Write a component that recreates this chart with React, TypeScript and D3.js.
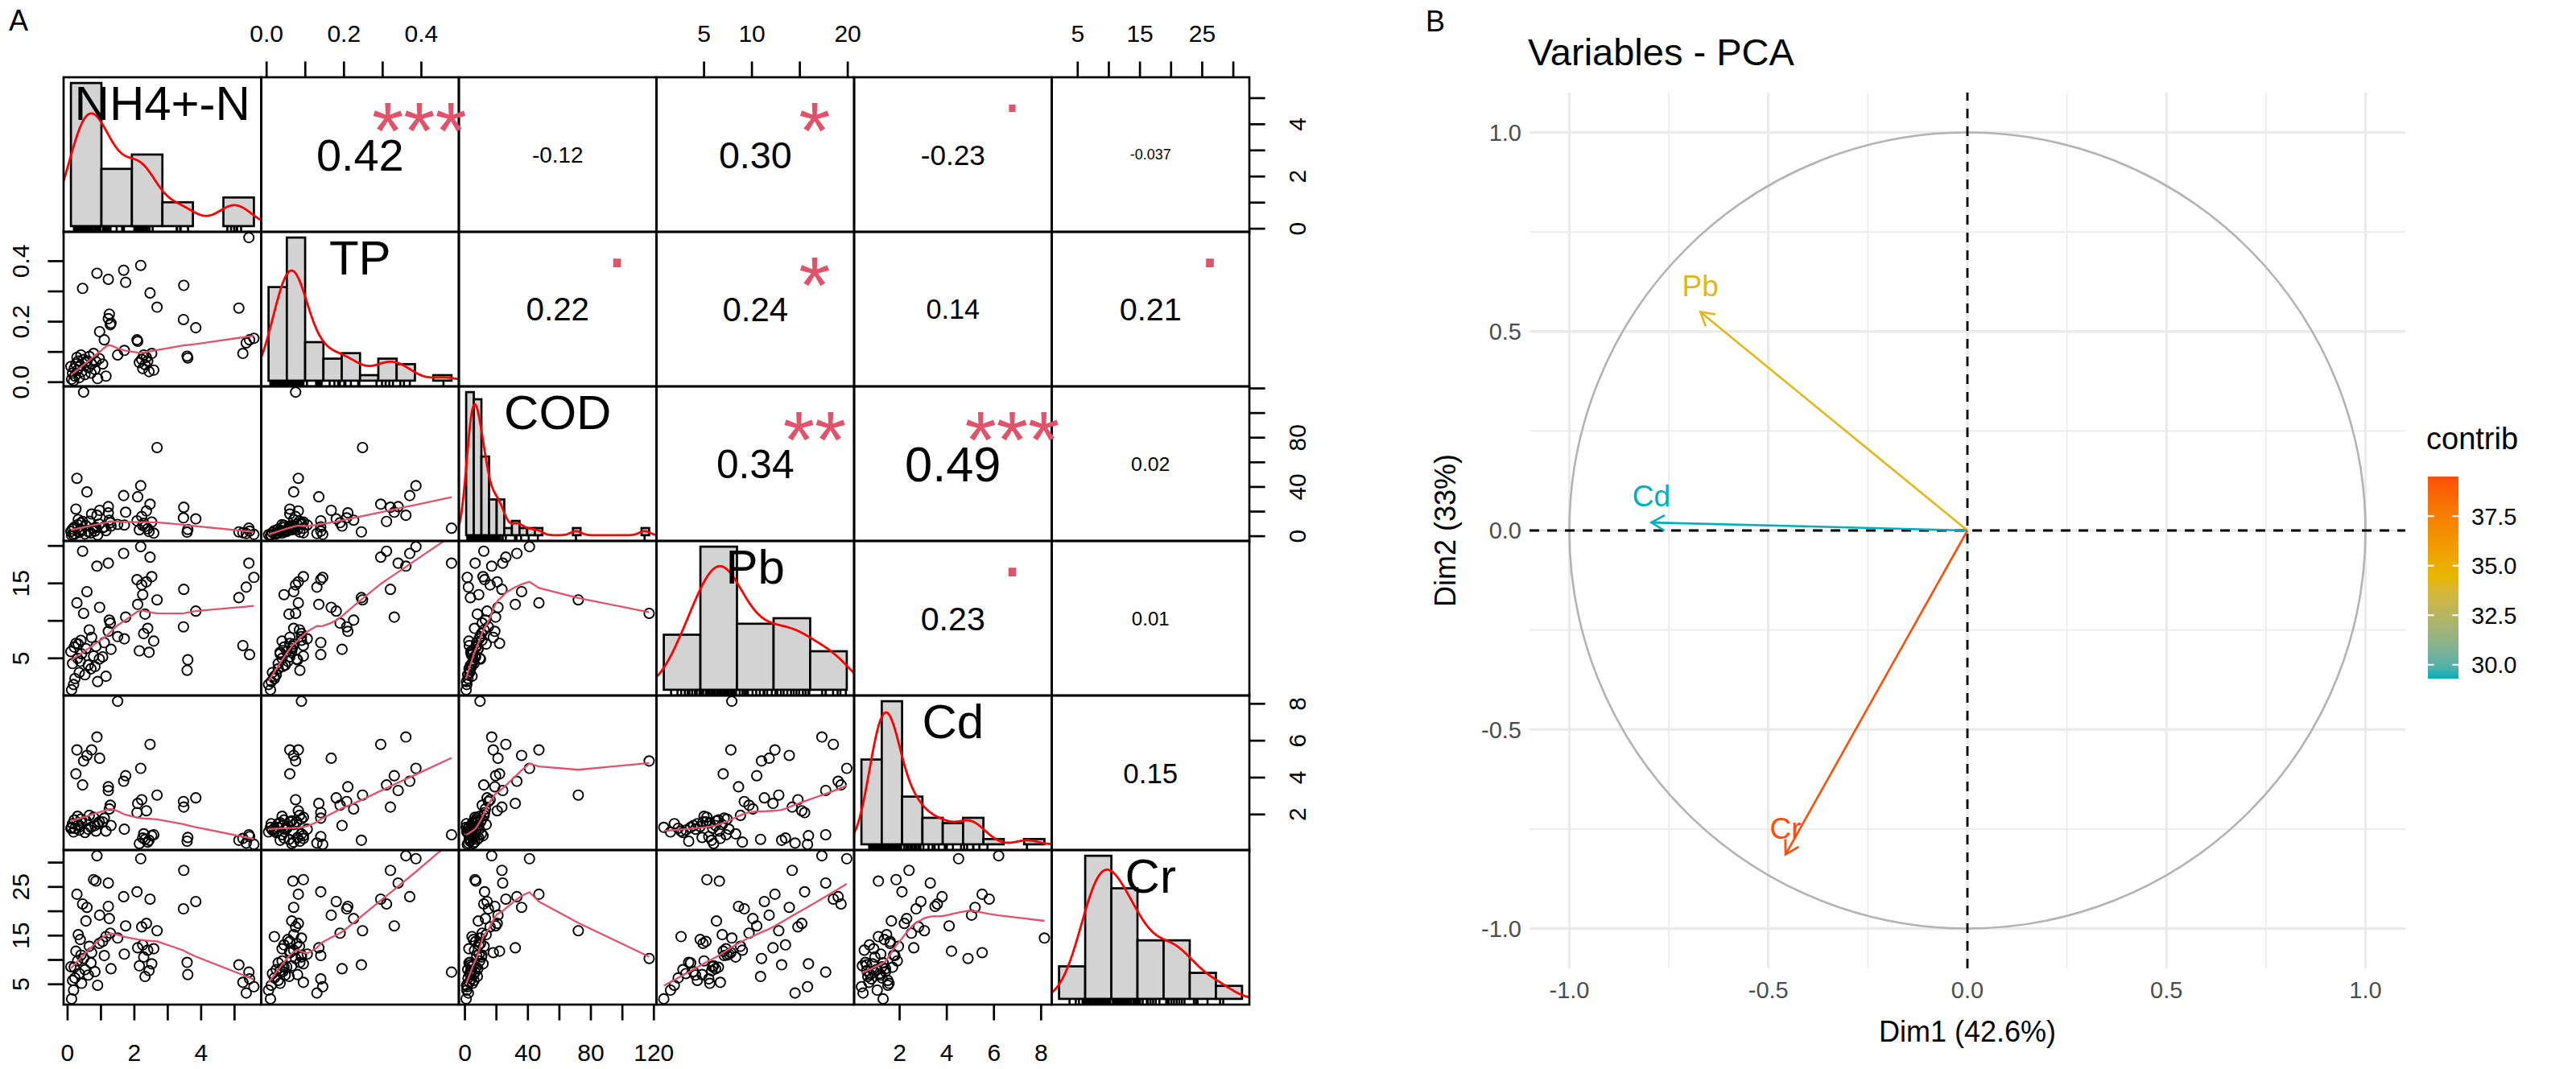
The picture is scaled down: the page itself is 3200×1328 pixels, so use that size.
import React from 'react';
import * as d3 from 'd3';

const W = 3200, H = 1328;
const FONT = "'Liberation Sans', Arial, Helvetica, sans-serif";

// ---------------- Panel A data (68 samples) ----------------
const varNames = ['NH4+-N', 'TP', 'COD', 'Pb', 'Cd', 'Cr'];
const nh4 = [0.45,0.88,1.22,1.68,1.74,2.19,2.47,2.68,3.48,3.47,3.84,5.13,5.43,1.22,1.25,0.96,1.28,1.30,1.10,2.08,2.10,5.35,5.45,5.58,1.70,3.58,3.60,5.25,1.05,1.50,1.15,2.15,2.22,2.28,2.32,2.36,2.40,2.52,2.25,2.44,2.58,0.12,0.15,0.18,0.20,0.22,0.25,0.28,0.30,0.32,0.35,0.38,0.40,0.42,0.48,0.52,0.55,0.58,0.62,0.65,0.70,0.72,0.78,0.82,0.85,0.90,0.95,0.10];
const tp = [0.31,0.36,0.34,0.37,0.33,0.386,0.295,0.248,0.32,0.207,0.18,0.245,0.478,0.21,0.225,0.167,0.19,0.195,0.14,0.14,0.135,0.13,0.14,0.145,0.105,0.086,0.08,0.095,0.06,0.09,0.02,0.065,0.075,0.09,0.058,0.082,0.07,0.095,0.045,0.035,0.04,0.01,0.03,0.005,0.045,0.02,0.06,0.082,0.04,0.07,0.015,0.055,0.09,0.035,0.075,0.025,0.065,0.07,0.048,0.085,0.03,0.06,0.095,0.042,0.068,0.012,0.078,0.052];
const cod = [12,17,24,33,19.5,41,26,72,23.5,14.9,14.1,3.5,6.5,19,13,21,11,8.2,7.5,12.5,32,2.2,4.1,1.5,9.1,3.3,5.5,2.8,6.8,9.6,4.5,5.2,16,10.5,7.9,20.5,6.1,11.5,8.8,3.8,2.5,0.8,5.8,1.2,7.2,2.0,22,47,9.4,13.5,3.0,5.4,10.8,4.8,117,1.8,8.5,36,3.6,12.2,2.6,18,6.4,4.2,7.0,1.0,9.9,3.9];
const pb = [19.3,17.3,17.7,19.0,10.5,19.9,18.5,12.8,14.2,9.2,11.3,13.1,17.7,8.6,10.1,11.8,9.7,6.2,7.1,15.5,12.2,14.5,5.5,15.8,7.6,3.4,4.8,6.7,5.2,7.9,2.6,6.0,14.8,8.3,10.9,15.2,9.0,15.9,13.5,5.8,7.3,0.8,4.3,1.5,6.5,2.3,7.0,12.4,5.0,6.9,3.1,4.6,7.4,5.6,11.0,2.8,6.3,13.9,4.1,8.8,3.6,7.8,5.3,3.9,6.6,1.9,4.9,5.9];
const cd = [3.6,6.2,3.3,3.8,4.1,4.5,5.8,3.05,2.4,2.7,2.9,0.6,0.9,3.5,2.3,5.05,2.5,1.4,1.8,2.1,2.6,0.45,0.8,0.38,1.2,0.55,0.75,0.7,1.6,8.14,1.1,0.42,2.8,0.95,0.65,2.2,0.5,0.85,0.72,0.6,0.9,1.3,1.5,1.05,1.7,1.25,4.2,5.5,1.9,1.45,1.15,1.35,1.75,1.55,4.9,1.02,1.65,5.2,1.2,1.95,1.3,5.5,1.85,1.4,1.1,1.5,1.6,1.25];
const cr = [21.5,31.4,25.8,23.0,17.0,30.8,22.5,16.0,28.4,20.5,22.0,9.0,7.5,21.0,18.5,19.2,15.5,8.2,10.9,24.0,12.5,3.2,6.1,4.5,11.2,9.5,7.0,5.4,13.8,14.5,14.8,8.8,16.8,10.6,6.6,17.5,12.0,9.2,13.1,7.8,12.3,2.0,5.8,3.8,8.5,6.3,11.8,23.5,9.8,15.2,7.2,14.2,11.0,5.2,10.3,8.0,18.0,20.8,6.9,12.8,9.4,11.5,26.5,7.6,26.2,4.8,13.4,8.6];

// histogram breaks (breaks = "FD")
const histBreaks = [
  [0, 1, 2, 3, 4, 5, 6],
  [0, 0.05, 0.1, 0.15, 0.2, 0.25, 0.3, 0.35, 0.4, 0.45, 0.5],
  [0, 5, 10, 15, 20, 25, 30, 35, 40, 45, 50, 55, 60, 65, 70, 75, 80, 85, 90, 95, 100, 105, 110, 115, 120],
  [0, 4, 8, 12, 16, 20],
  [0, 1, 2, 3, 4, 5, 6, 7, 8, 9],
  [0, 5, 10, 15, 20, 25, 30, 35],
];

// axis ticks and the labels R kept
const axisTicks = [
  [0, 1, 2, 3, 4, 5],
  [0, 0.1, 0.2, 0.3, 0.4],
  [0, 20, 40, 60, 80, 100, 120],
  [5, 10, 15, 20],
  [2, 4, 6, 8],
  [5, 10, 15, 20, 25, 30],
];
const labelsHoriz = [
  ['0', '', '2', '', '4', ''],
  ['0.0', '', '0.2', '', '0.4'],
  ['0', '', '40', '', '80', '', '120'],
  ['5', '10', '', '20'],
  ['2', '4', '6', '8'],
  ['5', '', '15', '', '25', ''],
];
const labelsVert = [
  ['0', '', '2', '', '4', ''],
  ['0.0', '', '0.2', '', '0.4'],
  ['0', '', '40', '', '80', '', ''],
  ['5', '', '15', ''],
  ['2', '4', '6', '8'],
  ['5', '', '15', '', '25', ''],
];

// correlations (upper panels)
const corrPairs = [[0,1],[0,2],[0,3],[0,4],[0,5],[1,2],[1,3],[1,4],[1,5],[2,3],[2,4],[2,5],[3,4],[3,5],[4,5]];
const corrLabels = ['0.42','-0.12','0.30','-0.23','-0.037','0.22','0.24','0.14','0.21','0.34','0.49','0.02','0.23','0.01','0.15'];
const corrStars = ['***','','*','.','','.','*','','.','**','***','','.','',''];

// ---------------- Panel B data ----------------
const pcaVars = ['Pb', 'Cd', 'Cr'];
const pcaDim1 = [-0.671, -0.794, -0.457];
const pcaDim2 = [0.549, 0.020, -0.814];
const pcaContrib = [34.2, 29.3, 39.5];
const dimLabels = ['Dim1 (42.6%)', 'Dim2 (33%)'];
const pcaMajor = [-1, -0.5, 0, 0.5, 1];
const pcaMinor = [-0.75, -0.25, 0.25, 0.75];
const pcaTickLabels = ['-1.0', '-0.5', '0.0', '0.5', '1.0'];
const legendTicks = [30, 32.5, 35, 37.5];
const legendTickLabels = ['30.0', '32.5', '35.0', '37.5'];
const gradientColors = ['#00AFBB', '#E7B800', '#FC4E07'];

// ---------------- helpers ----------------
const EM: Record<string, number> = { '.': 0.278, '-': 0.333, '*': 0.389 };
const emWidth = (s: string) => s.split('').reduce((a, c) => a + (EM[c] ?? 0.556), 0);
const padExt = (e: number[]) => { const r = e[1] - e[0]; return [e[0] - 0.04 * r, e[1] + 0.04 * r]; };

function bwNrd0(x: number[]) {
  const s = x.slice().sort((a, b) => a - b);
  const sd = d3.deviation(s) as number;
  const iqr = (d3.quantileSorted(s, 0.75) as number) - (d3.quantileSorted(s, 0.25) as number);
  let lo = Math.min(sd, iqr / 1.34);
  if (!(lo > 0)) lo = sd || Math.abs(s[0]) || 1;
  return 0.9 * lo * Math.pow(s.length, -0.2);
}
function kde(x: number[]) {
  const bw = bwNrd0(x);
  const lo = (d3.min(x) as number) - 3 * bw, hi = (d3.max(x) as number) + 3 * bw;
  const n = x.length, pts: [number, number][] = [];
  for (let k = 0; k < 512; k++) {
    const g = lo + (hi - lo) * k / 511;
    let s = 0;
    for (const v of x) { const u = (g - v) / bw; s += Math.exp(-0.5 * u * u); }
    pts.push([g, s / (n * bw * Math.sqrt(2 * Math.PI))]);
  }
  return pts;
}
function lowess(xIn: number[], yIn: number[], f = 2 / 3, iter = 3): [number, number][] {
  const n = xIn.length;
  const idx = d3.range(n).sort((a, b) => xIn[a] - xIn[b]);
  const x = idx.map(i => xIn[i]), y = idx.map(i => yIn[i]);
  const ns = Math.max(2, Math.min(n, Math.floor(f * n + 1e-7)));
  const range = x[n - 1] - x[0];
  let rw = new Array(n).fill(1);
  const ys = new Array(n).fill(0);
  for (let it = 0; it <= iter; it++) {
    let nleft = 0, nright = ns - 1;
    for (let i = 0; i < n; i++) {
      while (nright < n - 1) {
        const d1 = x[i] - x[nleft], d2 = x[nright + 1] - x[i];
        if (d1 <= d2) break;
        nleft++; nright++;
      }
      const h = Math.max(x[i] - x[nleft], x[nright] - x[i]);
      const h9 = 0.999 * h, h1 = 0.001 * h;
      const w: number[] = new Array(n).fill(0);
      let a = 0, j = nleft;
      for (; j < n; j++) {
        const r = Math.abs(x[j] - x[i]);
        if (r <= h9) {
          let wj = r <= h1 ? 1 : Math.pow(1 - Math.pow(r / h, 3), 3);
          if (it > 0) wj *= rw[j];
          w[j] = wj; a += wj;
        } else if (x[j] > x[i]) break;
      }
      const nrt = j - 1;
      if (a <= 0) { ys[i] = y[i]; continue; }
      for (let k = nleft; k <= nrt; k++) w[k] /= a;
      if (h > 0) {
        let m = 0;
        for (let k = nleft; k <= nrt; k++) m += w[k] * x[k];
        let b = x[i] - m, c = 0;
        for (let k = nleft; k <= nrt; k++) c += w[k] * (x[k] - m) * (x[k] - m);
        if (Math.sqrt(c) > 0.001 * range) {
          b /= c;
          for (let k = nleft; k <= nrt; k++) w[k] *= (b * (x[k] - m) + 1);
        }
      }
      let s = 0;
      for (let k = nleft; k <= nrt; k++) s += w[k] * y[k];
      ys[i] = s;
    }
    if (it >= iter) break;
    const res = y.map((v, i) => v - ys[i]);
    const ar = res.map(Math.abs).sort((p, q) => p - q);
    const cmad = 6 * (d3.median(ar) as number);
    if (cmad < 1e-7 * (d3.mean(ar) as number)) break;
    const c9 = 0.999 * cmad, c1 = 0.001 * cmad;
    rw = res.map(r => {
      const ra = Math.abs(r);
      if (ra <= c1) return 1;
      if (ra > c9) return 0;
      const u = ra / cmad; return (1 - u * u) * (1 - u * u);
    });
  }
  return x.map((xi, i) => [xi, ys[i]]);
}

// ---------------- component ----------------
export default function App() {
  const data = [nh4, tp, cod, pb, cd, cr];
  const nVar = data.length;
  const gx0 = 79, gy0 = 96, cw = 245.5, ch = 192;
  const lineW = 2.7;
  const red2 = '#DF536B';
  const ext = data.map(d => d3.extent(d) as [number, number]);
  const xs = (k: number, j: number) => d3.scaleLinear().domain(padExt(ext[k])).range([gx0 + j * cw, gx0 + (j + 1) * cw]);
  const ys = (k: number, i: number) => d3.scaleLinear().domain(padExt(ext[k])).range([gy0 + (i + 1) * ch, gy0 + i * ch]);

  const cells: JSX.Element[] = [];
  const clips: JSX.Element[] = [];

  for (let i = 0; i < nVar; i++) {
    for (let j = 0; j < nVar; j++) {
      const L = gx0 + j * cw, T = gy0 + i * ch;
      const id = `c${i}_${j}`;
      clips.push(<clipPath id={id} key={id}><rect x={L} y={T} width={cw} height={ch} /></clipPath>);
      const content: JSX.Element[] = [];
      if (i > j) {
        const sx = xs(j, j), sy = ys(i, i);
        const xv = data[j], yv = data[i];
        xv.forEach((v, k) => content.push(
          <circle key={`p${k}`} cx={sx(v)} cy={sy(yv[k])} r={6.1} fill="none" stroke="#000" strokeWidth={1.9} />
        ));
        const lw = lowess(xv, yv);
        const line = d3.line<[number, number]>().x(d => sx(d[0])).y(d => sy(d[1]));
        content.push(<path key="lw" d={line(lw) || ''} fill="none" stroke={red2} strokeWidth={2.3} />);
      } else if (i === j) {
        const br = histBreaks[i];
        const vals = data[i];
        const n = vals.length;
        const counts = new Array(br.length - 1).fill(0);
        vals.forEach(v => {
          for (let b = 0; b < br.length - 1; b++) {
            if ((v > br[b] || (b === 0 && v >= br[0])) && v <= br[b + 1]) { counts[b]++; break; }
          }
        });
        const dens = counts.map((c, b) => c / (n * (br[b + 1] - br[b])));
        const hx = d3.scaleLinear().domain(padExt([br[0], br[br.length - 1]])).range([L, L + cw]);
        const hy = d3.scaleLinear().domain(padExt([0, d3.max(dens) as number])).range([T + ch, T]);
        dens.forEach((dv, b) => {
          if (dv <= 0) return;
          content.push(<rect key={`h${b}`} x={hx(br[b])} y={hy(dv)} width={hx(br[b + 1]) - hx(br[b])} height={hy(0) - hy(dv)}
            fill="#D3D3D3" stroke="#000" strokeWidth={lineW} />);
        });
        const kd = kde(vals);
        const line = d3.line<[number, number]>().x(d => hx(d[0])).y(d => hy(d[1]));
        content.push(<path key="kd" d={line(kd) || ''} fill="none" stroke="#FF0000" strokeWidth={2.8} />);
        vals.forEach((v, k) => content.push(
          <line key={`r${k}`} x1={hx(v)} x2={hx(v)} y1={T + ch} y2={hy(0)} stroke="#000" strokeWidth={2.6} />
        ));
      }
      cells.push(<g key={id} clipPath={`url(#${id})`}>{content}</g>);
    }
  }

  // diagonal labels
  const diagLabels = varNames.map((nm, k) => (
    <text key={`dl${k}`} x={gx0 + (k + 0.5) * cw} y={gy0 + k * ch + ch / 6 + 0.358 * 60} fontSize={60} textAnchor="middle" fontFamily={FONT}>{nm}</text>
  ));

  // correlation texts
  const corrEls: JSX.Element[] = [];
  corrPairs.forEach(([i, j], q) => {
    const L = gx0 + j * cw, T = gy0 + i * ch;
    const txt = corrLabels[q];
    const r = Math.abs(parseFloat(txt));
    const base = 0.8 * cw / emWidth(txt);
    const fs = base * (r + 0.3) / 1.3;
    corrEls.push(<text key={`ct${q}`} x={L + cw / 2} y={T + ch / 2 + 0.358 * fs} fontSize={fs} textAnchor="middle" fontFamily={FONT}>{txt}</text>);
    const st = corrStars[q];
    if (st) {
      const off = st === '.' ? 0.052 : 0.62;
      corrEls.push(<text key={`cs${q}`} x={L + 0.8 * cw} y={T + 0.2 * ch + off * base} fontSize={base} textAnchor="middle" fill={red2} fontFamily={FONT}>{st}</text>);
    }
  });

  // boxes
  const boxes: JSX.Element[] = [];
  for (let i = 0; i < nVar; i++) for (let j = 0; j < nVar; j++) {
    boxes.push(<rect key={`b${i}_${j}`} x={gx0 + j * cw} y={gy0 + i * ch} width={cw} height={ch} fill="none" stroke="#000" strokeWidth={lineW} />);
  }

  // axes
  const axes: JSX.Element[] = [];
  const tickLen = 19.6, tfs = 30;
  const gRight = gx0 + nVar * cw, gBottom = gy0 + nVar * ch;
  for (let k = 0; k < nVar; k++) {
    const ticks = axisTicks[k];
    const sx = xs(k, k), sy = ys(k, k);
    if (k % 2 === 1) {
      ticks.forEach((t, q) => {
        axes.push(<line key={`tt${k}_${q}`} x1={sx(t)} x2={sx(t)} y1={gy0} y2={gy0 - tickLen} stroke="#000" strokeWidth={lineW} />);
        if (labelsHoriz[k][q]) axes.push(<text key={`tl${k}_${q}`} x={sx(t)} y={gy0 - 44} fontSize={tfs} textAnchor="middle" fontFamily={FONT}>{labelsHoriz[k][q]}</text>);
        axes.push(<line key={`lt${k}_${q}`} y1={sy(t)} y2={sy(t)} x1={gx0} x2={gx0 - tickLen} stroke="#000" strokeWidth={lineW} />);
        if (labelsVert[k][q]) axes.push(<text key={`ll${k}_${q}`} transform={`translate(${gx0 - 43},${sy(t)}) rotate(-90)`} fontSize={tfs} textAnchor="middle" fontFamily={FONT}>{labelsVert[k][q]}</text>);
      });
    } else {
      ticks.forEach((t, q) => {
        axes.push(<line key={`bt${k}_${q}`} x1={sx(t)} x2={sx(t)} y1={gBottom} y2={gBottom + tickLen} stroke="#000" strokeWidth={lineW} />);
        if (labelsHoriz[k][q]) axes.push(<text key={`bl${k}_${q}`} x={sx(t)} y={gBottom + 70} fontSize={tfs} textAnchor="middle" fontFamily={FONT}>{labelsHoriz[k][q]}</text>);
        axes.push(<line key={`rt${k}_${q}`} y1={sy(t)} y2={sy(t)} x1={gRight} x2={gRight + tickLen} stroke="#000" strokeWidth={lineW} />);
        if (labelsVert[k][q]) axes.push(<text key={`rl${k}_${q}`} transform={`translate(${gRight + 70},${sy(t)}) rotate(-90)`} fontSize={tfs} textAnchor="middle" fontFamily={FONT}>{labelsVert[k][q]}</text>);
      });
    }
  }

  // ---------------- Panel B ----------------
  const pcx = 2444, pcy = 659, pu = 494.5;
  const bx = d3.scaleLinear().domain([-1.1, 1.1]).range([pcx - 1.1 * pu, pcx + 1.1 * pu]);
  const by = d3.scaleLinear().domain([-1.1, 1.1]).range([pcy + 1.1 * pu, pcy - 1.1 * pu]);
  const cMin = d3.min(pcaContrib) as number, cMax = d3.max(pcaContrib) as number;
  const colScale = d3.scaleLinear<string>().domain([cMin, (cMin + cMax) / 2, cMax]).range(gradientColors).interpolate(d3.interpolateLab);
  const gridCol = '#EBEBEB';
  const pcaEls: JSX.Element[] = [];
  pcaMinor.forEach((v, q) => {
    pcaEls.push(<line key={`mnx${q}`} x1={bx(v)} x2={bx(v)} y1={by(-1.1)} y2={by(1.1)} stroke={gridCol} strokeWidth={1.7} />);
    pcaEls.push(<line key={`mny${q}`} y1={by(v)} y2={by(v)} x1={bx(-1.1)} x2={bx(1.1)} stroke={gridCol} strokeWidth={1.7} />);
  });
  pcaMajor.forEach((v, q) => {
    pcaEls.push(<line key={`mjx${q}`} x1={bx(v)} x2={bx(v)} y1={by(-1.1)} y2={by(1.1)} stroke={gridCol} strokeWidth={3.4} />);
    pcaEls.push(<line key={`mjy${q}`} y1={by(v)} y2={by(v)} x1={bx(-1.1)} x2={bx(1.1)} stroke={gridCol} strokeWidth={3.4} />);
    pcaEls.push(<text key={`xl${q}`} x={bx(v)} y={1240} fontSize={29} fill="#4D4D4D" textAnchor="middle" fontFamily={FONT}>{pcaTickLabels[q]}</text>);
    pcaEls.push(<text key={`yl${q}`} x={1890} y={by(v) + 10.4} fontSize={29} fill="#4D4D4D" textAnchor="end" fontFamily={FONT}>{pcaTickLabels[q]}</text>);
  });
  pcaEls.push(<circle key="uc" cx={bx(0)} cy={by(0)} r={bx(1) - bx(0)} fill="none" stroke="#B3B3B3" strokeWidth={2.6} />);
  pcaEls.push(<line key="hl" x1={bx(-1.1)} x2={bx(1.1)} y1={by(0)} y2={by(0)} stroke="#000" strokeWidth={2.8} strokeDasharray="12 10" />);
  pcaEls.push(<line key="vl" y1={by(-1.1)} y2={by(1.1)} x1={bx(0)} x2={bx(0)} stroke="#000" strokeWidth={2.8} strokeDasharray="12 10" />);
  pcaVars.forEach((nm, q) => {
    const x1 = bx(0), y1 = by(0), x2 = bx(pcaDim1[q]), y2 = by(pcaDim2[q]);
    const col = colScale(pcaContrib[q]);
    const ang = Math.atan2(y2 - y1, x2 - x1);
    const al = 19, aa = Math.PI / 6;
    const p1 = [x2 - al * Math.cos(ang - aa), y2 - al * Math.sin(ang - aa)];
    const p2 = [x2 - al * Math.cos(ang + aa), y2 - al * Math.sin(ang + aa)];
    pcaEls.push(<line key={`ar${q}`} x1={x1} y1={y1} x2={x2} y2={y2} stroke={col} strokeWidth={2.6} />);
    pcaEls.push(<path key={`ah${q}`} d={`M${p1[0]},${p1[1]}L${x2},${y2}L${p2[0]},${p2[1]}`} fill="none" stroke={col} strokeWidth={2.6} />);
    pcaEls.push(<text key={`vt${q}`} x={x2} y={y2 - 20} fontSize={37} fill={col} textAnchor="middle" fontFamily={FONT}>{nm}</text>);
  });

  // legend (colourbar spans the contrib limits)
  const legX = 3016, legW = 38;
  const ly = d3.scaleLinear().domain([cMin, cMax]).range([843, 592]);
  const legTop = ly(cMax), legBot = ly(cMin);
  const stops = d3.range(0, 21).map(s => {
    const v = cMin + (cMax - cMin) * s / 20;
    return <stop key={`st${s}`} offset={`${(s / 20) * 100}%`} stopColor={colScale(v)} />;
  });
  const legEls: JSX.Element[] = [];
  legEls.push(<rect key="lb" x={legX} y={legTop} width={legW} height={legBot - legTop} fill="url(#lg)" />);
  legendTicks.forEach((t, q) => {
    legEls.push(<line key={`lt1${q}`} x1={legX} x2={legX + legW / 5} y1={ly(t)} y2={ly(t)} stroke="#fff" strokeWidth={2} />);
    legEls.push(<line key={`lt2${q}`} x1={legX + legW - legW / 5} x2={legX + legW} y1={ly(t)} y2={ly(t)} stroke="#fff" strokeWidth={2} />);
    legEls.push(<text key={`ltl${q}`} x={legX + legW + 16} y={ly(t) + 10.4} fontSize={29} fill="#000" fontFamily={FONT}>{legendTickLabels[q]}</text>);
  });

  return (
    <svg width={W} height={H} viewBox={`0 0 ${W} ${H}`} style={{ position: 'absolute', left: 0, top: 0, background: '#fff' }}>
      <defs>
        {clips}
        <linearGradient id="lg" x1="0" y1="1" x2="0" y2="0">{stops}</linearGradient>
      </defs>
      <rect x={0} y={0} width={W} height={H} fill="#fff" />
      <text x={11} y={38} fontSize={36} fontFamily={FONT}>A</text>
      {cells}
      {boxes}
      {diagLabels}
      {corrEls}
      {axes}
      <text x={1771} y={39} fontSize={36} fontFamily={FONT}>B</text>
      <text x={1898} y={81} fontSize={47} fontFamily={FONT}>Variables - PCA</text>
      {pcaEls}
      <text x={pcx} y={1294} fontSize={36} textAnchor="middle" fontFamily={FONT}>{dimLabels[0]}</text>
      <text transform={`translate(1808,${pcy}) rotate(-90)`} fontSize={36} textAnchor="middle" fontFamily={FONT}>{dimLabels[1]}</text>
      <text x={3014} y={558} fontSize={38} fontFamily={FONT}>contrib</text>
      {legEls}
    </svg>
  );
}
